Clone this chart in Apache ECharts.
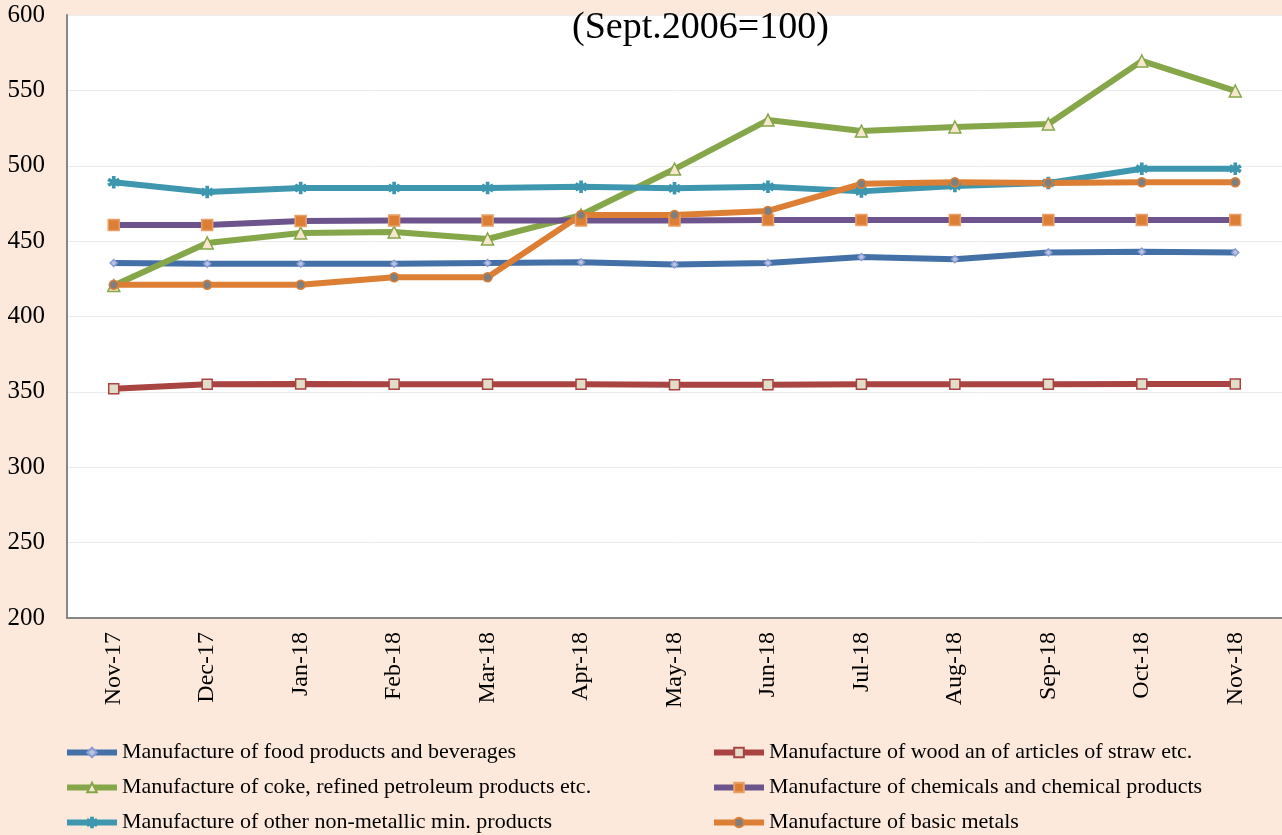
<!DOCTYPE html>
<html>
<head>
<meta charset="utf-8">
<script src="https://cdn.jsdelivr.net/npm/echarts@6/dist/echarts.min.js"></script>
<style>
html, body { margin: 0; padding: 0; background: #FDE9DB; }
#chart { width: 1282px; height: 835px; }
</style>
</head>
<body>
<div id="chart"></div>
<script>
// categories
var months = ['Nov-17', 'Dec-17', 'Jan-18', 'Feb-18', 'Mar-18', 'Apr-18', 'May-18', 'Jun-18', 'Jul-18', 'Aug-18', 'Sep-18', 'Oct-18', 'Nov-18'];

// index values (Sept.2006=100)
var food = [435.5, 435, 435, 435, 435.5, 436, 434.5, 435.5, 439.5, 438, 442.5, 443, 442.5];
var wood = [352, 355, 355.2, 355, 355, 355, 354.8, 354.8, 355, 355, 355, 355.2, 355.2];
var coke = [420.5, 448.8, 455.4, 456, 451.4, 467.3, 497.8, 530.3, 523, 525.7, 527.7, 569.5, 549.6];
var chemicals = [460.7, 460.7, 463.4, 463.6, 463.6, 463.6, 463.6, 464, 464, 464, 464, 464, 464];
var nonMetallic = [489, 482.6, 485.2, 485.2, 485.2, 486, 485, 486, 483, 486.6, 488.6, 498, 498];
var basicMetals = [421, 421, 421, 426, 426, 467.3, 467.3, 470, 488, 489, 488.6, 489, 489];

var names = [
    'Manufacture of food products and beverages',
    'Manufacture of wood an of articles of straw etc.',
    'Manufacture of coke, refined petroleum products etc.',
    'Manufacture of chemicals and chemical products',
    'Manufacture of other non-metallic min. products',
    'Manufacture of basic metals'
];

var font = '"Liberation Serif", "Times New Roman", serif';
var starPath = 'path://M4,0L6,0L6,3.5L9,1.8L10,3.5L7,5L10,6.5L9,8.2L6,6.5L6,10L4,10L4,6.5L1,8.2L0,6.5L3,5L0,3.5L1,1.8L4,3.5Z';

function mkSeries(name, data, color, symbol, size, fill, border) {
    return {
        name: name,
        type: 'line',
        data: data,
        symbol: symbol,
        symbolSize: size,
        showAllSymbol: true,
        lineStyle: { color: color, width: 6 },
        itemStyle: { color: fill, borderColor: border, borderWidth: 1.5 },
        emphasis: { disabled: true }
    };
}

function mkLegend(left, items) {
    return {
        orient: 'vertical',
        left: left,
        top: 741,
        padding: 0,
        itemWidth: 50,
        itemHeight: 12,
        itemGap: 12,
        data: items,
        lineStyle: { width: 6 },
        textStyle: { fontFamily: font, fontSize: 22, color: '#000', lineHeight: 23 }
    };
}

var myChart = echarts.init(document.getElementById('chart'));
var option = {
    animation: false,
    backgroundColor: '#FDE9DB',
    title: {
        text: '(Sept.2006=100)',
        left: 567,
        top: 4,
        textStyle: { fontFamily: font, fontSize: 38, fontWeight: 'normal', color: '#000' }
    },
    grid: {
        left: 67,
        top: 15,
        width: 1219,
        height: 603,
        show: true,
        backgroundColor: '#fff',
        borderWidth: 0
    },
    legend: [
        mkLegend(64, [names[0], names[2], names[4]]),
        mkLegend(711, [names[1], names[3], names[5]])
    ],
    xAxis: {
        type: 'category',
        data: months,
        boundaryGap: true,
        axisLine: { lineStyle: { color: '#868686', width: 2 } },
        axisTick: { show: false },
        axisLabel: {
            rotate: 90,
            margin: 14,
            fontFamily: font,
            fontSize: 24,
            color: '#000'
        }
    },
    yAxis: {
        type: 'value',
        min: 200,
        max: 600,
        interval: 50,
        axisLine: { show: true, lineStyle: { color: '#868686', width: 2 } },
        axisTick: { show: false },
        axisLabel: { margin: 22, fontFamily: font, fontSize: 25, color: '#000' },
        splitLine: { lineStyle: { color: '#EBEBEB', width: 1 } }
    },
    series: [
        mkSeries(names[0], food, '#4470A8', 'diamond', 7, '#B9C4E2', '#8C9BD0'),
        mkSeries(names[1], wood, '#A94442', 'rect', 10, '#E2DDC8', '#A94442'),
        mkSeries(names[2], coke, '#86A64A', 'triangle', 12, '#F6E7CE', '#86A64A'),
        mkSeries(names[3], chemicals, '#6E548D', 'rect', 11, '#DC7F35', '#E8A068'),
        mkSeries(names[4], nonMetallic, '#3E97AF', starPath, 11, '#3E97AF', '#3E97AF'),
        mkSeries(names[5], basicMetals, '#DC7F35', 'circle', 9, '#7F7F7F', '#DC7F35')
    ]
};
myChart.setOption(option);
</script>
</body>
</html>
